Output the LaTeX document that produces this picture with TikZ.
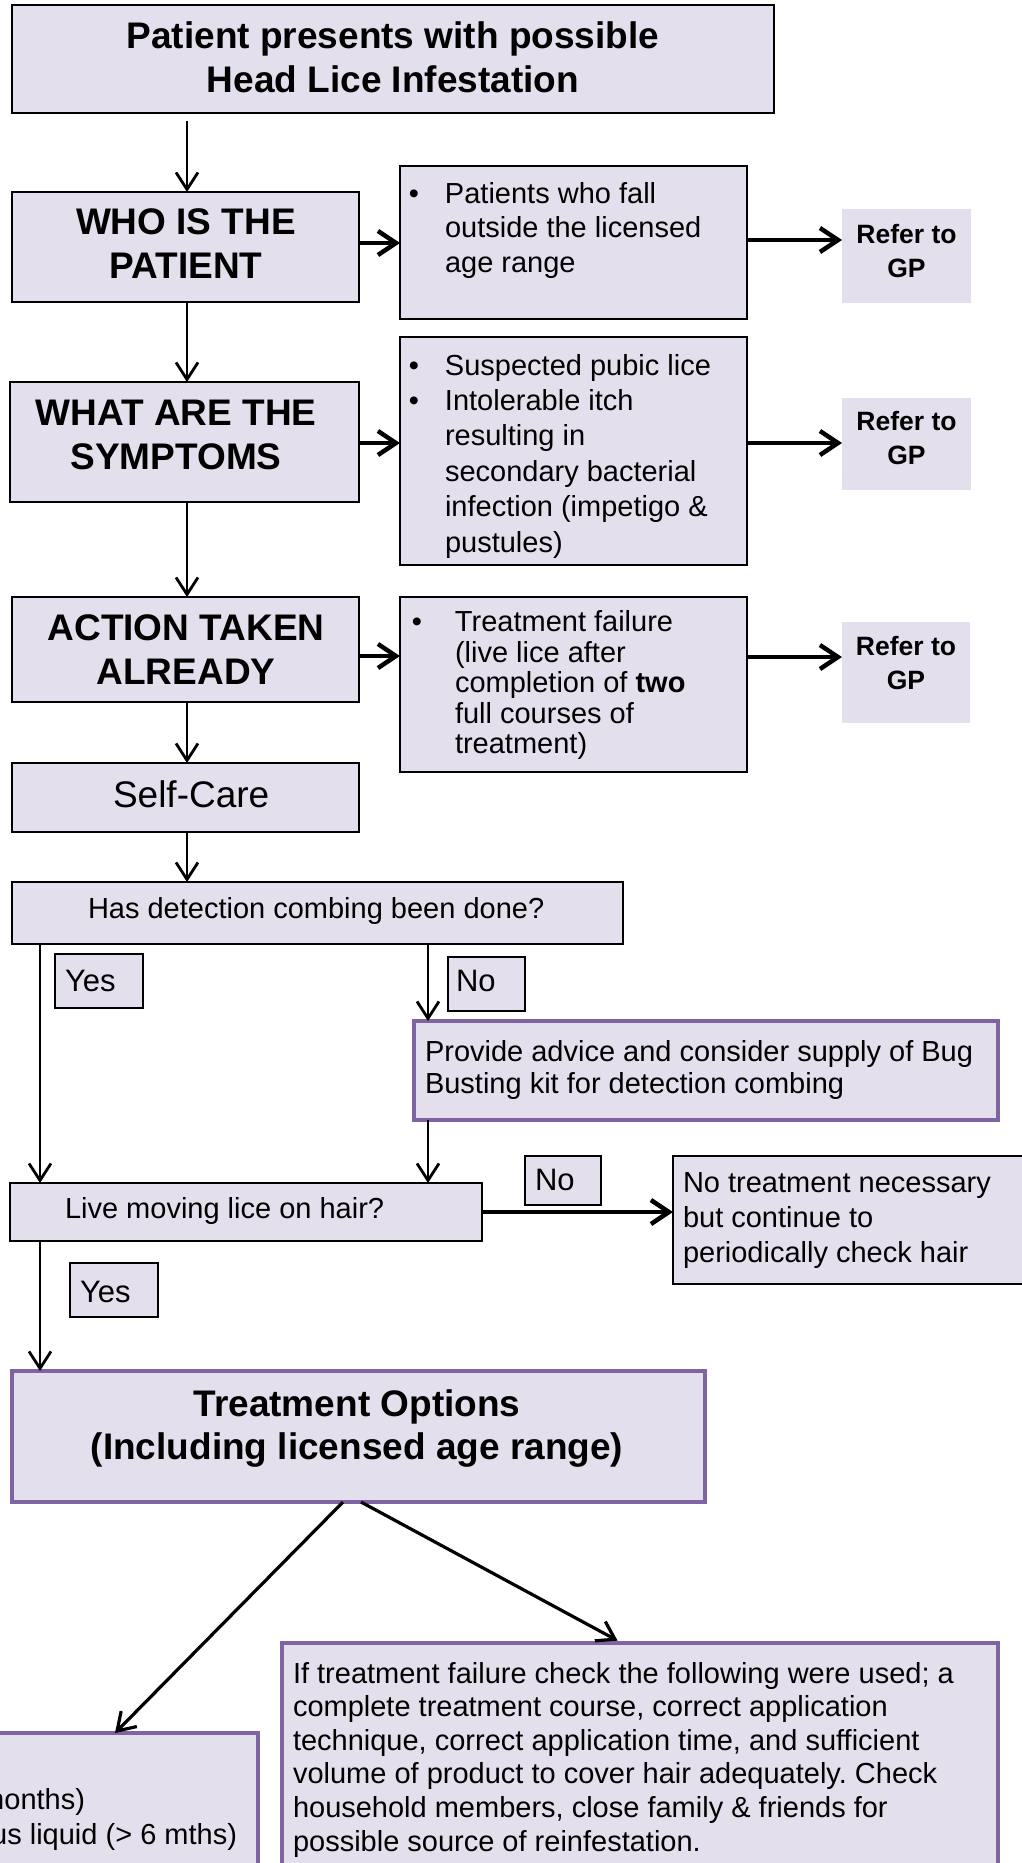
\documentclass[tikz,border=0pt]{standalone}
\usepackage{fontspec}
\setmainfont{Liberation Sans}
\usetikzlibrary{arrows.meta}
\definecolor{lav}{HTML}{E4DFEC}
\definecolor{purp}{HTML}{8064A2}
\frenchspacing
\begin{document}
\begin{tikzpicture}[x=1pt,y=-1pt,
  every node/.style={inner sep=0pt, outer sep=0pt},
  box/.style={draw=black, line width=1.8pt, fill=lav, anchor=north west},
  pbox/.style={draw=purp, line width=4pt, fill=lav, anchor=north west},
  gpbox/.style={fill=lav, draw=none, anchor=north west},
  thinarrow/.style={line width=2.8pt, -{Straight Barb[length=17pt,width=22pt]}},
  thickarrow/.style={line width=4.5pt, -{Straight Barb[length=18pt,width=24pt]}},
  diagarrow/.style={line width=3.2pt, -{Straight Barb[length=17pt,width=22pt]}},
  body/.style={font=\fontsize{29}{35}\selectfont},
  big/.style={font=\fontsize{37}{44}\selectfont\bfseries},
  gptext/.style={font=\fontsize{26.5}{34}\selectfont\bfseries},
  lbl/.style={font=\fontsize{31}{36}\selectfont},
]
\useasboundingbox (0,0) rectangle (1022,1863);
\clip (0,0) rectangle (1022,1863);
\fill[white] (0,0) rectangle (1022,1863);

% ---------- boxes ----------
\node[box, minimum width=762pt, minimum height=108pt] (top) at (12,5) {};
\node[box, minimum width=347pt, minimum height=110pt] (who) at (12,192) {};
\node[box, minimum width=347pt, minimum height=153pt] (b1) at (400,166) {};
\node[gpbox, minimum width=129pt, minimum height=94pt] (gp1) at (842,209) {};
\node[box, minimum width=349pt, minimum height=120pt] (what) at (10,382) {};
\node[box, minimum width=347pt, minimum height=228pt] (b2) at (400,337) {};
\node[gpbox, minimum width=129pt, minimum height=92pt] (gp2) at (842,398) {};
\node[box, minimum width=347pt, minimum height=105pt] (action) at (12,597) {};
\node[box, minimum width=347pt, minimum height=175pt] (b3) at (400,597) {};
\node[gpbox, minimum width=128pt, minimum height=101pt] (gp3) at (842,622) {};
\node[box, minimum width=347pt, minimum height=69pt] (selfcare) at (12,763) {};
\node[box, minimum width=611pt, minimum height=62pt] (has) at (12,882) {};
\node[box, minimum width=88pt, minimum height=54pt] (yes1) at (55,954) {};
\node[box, minimum width=77pt, minimum height=54pt] (no1) at (448,957) {};
\node[pbox, minimum width=584pt, minimum height=99pt] (provide) at (414,1021) {};
\node[box, minimum width=472pt, minimum height=58pt] (live) at (10,1183) {};
\node[box, minimum width=76pt, minimum height=49pt] (no2) at (525,1156) {};
\node[box, minimum width=367pt, minimum height=128pt] (notreat) at (673,1156) {};
\node[box, minimum width=88pt, minimum height=54pt] (yes2) at (70,1263) {};
\node[pbox, minimum width=693pt, minimum height=131pt] (treat) at (12,1371) {};
\node[pbox, minimum width=716pt, minimum height=257pt] (rb) at (282,1643) {};
\node[pbox, minimum width=288pt, minimum height=167pt] (lb) at (-30,1733) {};

% ---------- texts ----------
\node[big, anchor=base] (ttop) at (393,48.3) {\parbox[t]{740pt}{\centering Patient presents with possible\\Head Lice Infestation}};
\node[big, anchor=base] (twho) at (186,234) {\parbox[t]{340pt}{\centering WHO IS THE\\PATIENT}};
\node[big, anchor=base] (twhat) at (176,425) {\parbox[t]{340pt}{\centering WHAT ARE THE\\SYMPTOMS}};
\node[big, anchor=base] (taction) at (186,640) {\parbox[t]{340pt}{\centering ACTION TAKEN\\ALREADY}};

\node[body, anchor=base west] (tb1) at (445,203) {\fontsize{29}{34.5}\selectfont\parbox[t]{300pt}{\raggedright\leavevmode\llap{•\hspace{26pt}}Patients who fall\\outside the licensed\\age range}};
\node[body, anchor=base west] (tb2) at (445,375) {\fontsize{29}{35.4}\selectfont\parbox[t]{300pt}{\raggedright\leavevmode\llap{•\hspace{26pt}}Suspected pubic lice\\\leavevmode\llap{•\hspace{26pt}}Intolerable itch\\resulting in\\secondary bacterial\\infection (impetigo \&\\pustules)}};
\node[body, anchor=base west] (tb3) at (455,631.7) {\fontsize{29}{30.5}\selectfont\parbox[t]{290pt}{\raggedright\leavevmode\llap{•\hspace{33pt}}Treatment failure\\(live lice after\\completion of \textbf{two}\\full courses of\\treatment)}};

\node[gptext, anchor=base] (tgp1) at (906.5,243) {\parbox[t]{125pt}{\centering Refer to\\GP}};
\node[gptext, anchor=base] (tgp2) at (906.5,430) {\parbox[t]{125pt}{\centering Refer to\\GP}};
\node[gptext, anchor=base] (tgp3) at (906,655) {\parbox[t]{125pt}{\centering Refer to\\GP}};

\node[font=\fontsize{37}{44}\selectfont, anchor=base west] (tself) at (113,807) {Self-Care};
\node[body, anchor=base west] (thas) at (88,918) {Has detection combing been done?};
\node[lbl, anchor=base west] (tyes1) at (65,991.5) {Yes};
\node[lbl, anchor=base west] (tno1) at (456,991.5) {No};
\node[body, anchor=base west] (tprov) at (425,1061.6) {\fontsize{29}{31.5}\selectfont\parbox[t]{570pt}{\raggedright Provide advice and consider supply of Bug\\Busting kit for detection combing}};
\node[body, anchor=base west] (tlive) at (65,1218) {Live moving lice on hair?};
\node[lbl, anchor=base west] (tno2) at (535,1190) {No};
\node[body, anchor=base west] (tnot) at (683,1192) {\fontsize{29}{35}\selectfont\parbox[t]{340pt}{\raggedright No treatment necessary\\but continue to\\periodically check hair}};
\node[lbl, anchor=base west] (tyes2) at (80,1302) {Yes};
\node[big, anchor=base] (ttreat) at (357,1416.7) {\fontsize{37}{43}\selectfont\parbox[t]{680pt}{\centering Treatment Options\\(Including licensed age range)}};
\node[body, anchor=base west] (trb) at (293,1683) {\fontsize{29}{33.6}\selectfont\parbox[t]{700pt}{\raggedright If treatment failure check the following were used; a\\complete treatment course, correct application\\technique, correct application time, and sufficient\\volume of product to cover hair adequately. Check\\household members, close family \& friends for\\possible source of reinfestation.}};
\node[body, anchor=base east] (tlb1) at (85,1809) {months)};
\node[body, anchor=base east] (tlb2) at (237,1844) {us liquid (> 6 mths)};

% ---------- connector coordinates ----------
\coordinate (colx) at (187,0);
\coordinate (yesx) at (40,0);
\coordinate (nox) at (428,0);
\coordinate (r1) at (0,243);
\coordinate (r1b) at (0,240);
\coordinate (r2) at (0,443);
\coordinate (r3) at (0,656);
\coordinate (r3b) at (0,657);
\coordinate (lx1) at (343,0);
\coordinate (lx2) at (115,0);
\coordinate (rx1) at (361,0);
\coordinate (rx2) at (622,0);

% ---------- connectors ----------
\draw[thinarrow, shorten <=8pt] (top.south -| colx) -- (who.north -| colx);
\draw[thinarrow] (who.south -| colx) -- (what.north -| colx);
\draw[thinarrow] (what.south -| colx) -- (action.north -| colx);
\draw[thinarrow] (action.south -| colx) -- (selfcare.north -| colx);
\draw[thinarrow] (selfcare.south -| colx) -- (has.north -| colx);
\draw[thinarrow] (has.south -| yesx) -- (live.north -| yesx);
\draw[thinarrow] (has.south -| nox) -- (provide.north -| nox);
\draw[thinarrow] (provide.south -| nox) -- (live.north -| nox);
\draw[thinarrow] (live.south -| yesx) -- (treat.north -| yesx);

\draw[thickarrow] (who.east |- r1) -- (b1.west |- r1);
\draw[thickarrow] (b1.east |- r1b) -- (gp1.west |- r1b);
\draw[thickarrow] (what.east |- r2) -- (b2.west |- r2);
\draw[thickarrow] (b2.east |- r2) -- (gp2.west |- r2);
\draw[thickarrow] (action.east |- r3) -- (b3.west |- r3);
\draw[thickarrow] (b3.east |- r3b) -- (gp3.west |- r3b);
\draw[thickarrow] (live.east) -- (live.east -| notreat.west);

\draw[diagarrow] (treat.south -| lx1) -- (lb.north -| lx2);
\draw[diagarrow, shorten >=5pt] (treat.south -| rx1) -- (rb.north -| rx2);
\end{tikzpicture}
\end{document}
